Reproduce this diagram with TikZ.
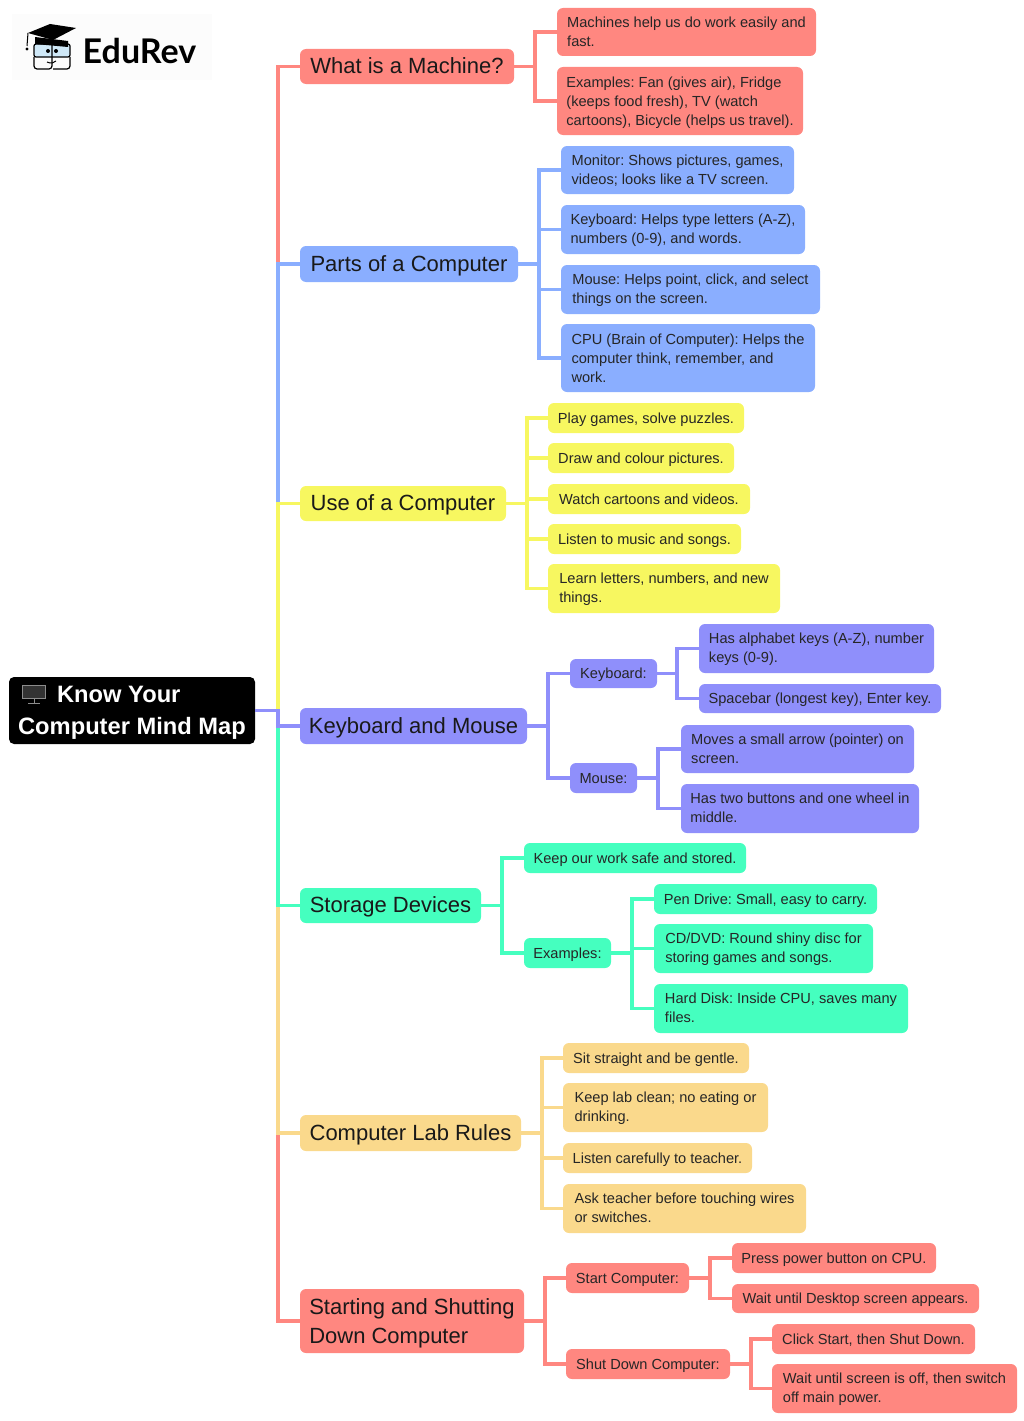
\documentclass[tikz,border=0pt]{standalone}
\usepackage{fontspec}
\setmainfont{Liberation Sans}
\newfontfamily\logofont{Lato}
\definecolor{mapred}{HTML}{FF8780}
\definecolor{mapblue}{HTML}{8AAEFF}
\definecolor{mapyellow}{HTML}{F7F760}
\definecolor{mapviolet}{HTML}{8F8FFB}
\definecolor{mapteal}{HTML}{45FFBF}
\definecolor{maptan}{HTML}{FAD98C}
\definecolor{logoblue}{HTML}{CFE8F7}
\tikzset{
  rootbox/.style={fill=black,text=white,rounded corners=5pt,inner sep=0pt,align=left,
    font=\fontsize{23.7}{32}\selectfont\bfseries\frenchspacing,
    execute at begin node={\rule{0pt}{53pt}},execute at end node={\rule[-2.5pt]{0pt}{2.5pt}}},
  branch/.style={fill=#1,text=black!90,rounded corners=6pt,inner sep=0pt,align=left,
    font=\fontsize{22}{29}\selectfont\frenchspacing,
    execute at begin node={\rule{0pt}{20.5pt}},execute at end node={\rule[-6pt]{0pt}{6pt}}},
  leaf/.style={fill=#1,text=black!85,rounded corners=6pt,inner sep=0pt,align=left,
    font=\fontsize{14.6}{19}\selectfont\frenchspacing,
    execute at begin node={\rule{0pt}{14pt}},execute at end node={\rule[-3.2pt]{0pt}{3.2pt}}},
  multi/.style={execute at begin node={\rule{0pt}{#1pt}}},
  multi/.default=31.8,
  conn/.style={line width=3.5pt,color=#1}
}
\begin{document}
\begin{tikzpicture}[x=1pt,y=-1pt]
   \useasboundingbox (0,0) rectangle (1024,1421);

   % logo
   \fill[black!1] (12,14) rectangle (212,80);
   \draw[fill=logoblue,line width=1.2pt,rounded corners=2pt] (34,44) rectangle (70,57);
   \draw[line width=1.2pt,rounded corners=3pt] (34,57) -- (34,69) -- (52,69) -- (52,44);
   \draw[line width=1.2pt,rounded corners=3pt] (53,69) -- (70,69) -- (70,57);
   \fill (35,37) -- (68,41) -- (68,47) -- (35,44) -- cycle;
   \fill (28,33) -- (50,24) -- (76,28) -- (53,40) -- cycle;
   \draw[line width=1pt] (28,33) -- (27,46);
   \fill (27,49) circle (1.6);
   \fill (48,51) circle (2) (56,51) circle (2);
   \draw[line width=1pt] (47,62) .. controls (51,64) and (54,63) .. (56,61);
   \node[font=\logofont\fontsize{34}{34}\selectfont\bfseries,inner sep=0pt] (logo) at (139.5,51) {EduRev};

   % root
   \node[rootbox,minimum width=246,minimum height=67] (root) at (132,710.5) {\hspace*{39pt}Know Your\\Computer Mind Map};
   \draw[fill=black!80,draw=black!45,line width=1pt] (22.5,685.5) rectangle (45.5,698.5);
   \draw[black!45,line width=1pt] (34,699) -- (34,703) (28,703.5) -- (40,703.5);

   % main branches
   \node[branch=mapred,minimum width=214,minimum height=35] (machine) at (407,66.5) {What is a Machine?};
   \node[branch=mapblue,minimum width=218,minimum height=36] (parts) at (409,264) {Parts of a Computer};
   \node[branch=mapyellow,minimum width=206,minimum height=35] (use) at (403,503.5) {Use of a Computer};
   \node[branch=mapviolet,minimum width=227,minimum height=36] (keys) at (413.5,726) {Keyboard and Mouse};
   \node[branch=mapteal,minimum width=181,minimum height=35] (storage) at (390.5,905.5) {Storage Devices};
   \node[branch=maptan,minimum width=221,minimum height=36] (lab) at (410.5,1133) {Computer Lab Rules};
   \node[branch=mapred,multi=51,minimum width=224,minimum height=64] (power) at (412,1321) {Starting and Shutting\\Down Computer};

   % what is a machine
   \node[leaf=mapred,multi,minimum width=259,minimum height=48] (m1) at (686.5,32) {Machines help us do work easily and\\fast.};
   \node[leaf=mapred,multi=52.4,minimum width=246,minimum height=68] (m2) at (680,101) {Examples: Fan (gives air), Fridge\\(keeps food fresh), TV (watch\\cartoons), Bicycle (helps us travel).};

   % parts
   \node[leaf=mapblue,multi,minimum width=233,minimum height=48] (p1) at (677.5,170) {Monitor: Shows pictures, games,\\videos; looks like a TV screen.};
   \node[leaf=mapblue,multi,minimum width=244,minimum height=49] (p2) at (683,229.5) {Keyboard: Helps type letters (A-Z),\\numbers (0-9), and words.};
   \node[leaf=mapblue,multi,minimum width=259,minimum height=49] (p3) at (690.5,289.5) {Mouse: Helps point, click, and select\\things on the screen.};
   \node[leaf=mapblue,multi=52.4,minimum width=254,minimum height=68] (p4) at (688,358) {CPU (Brain of Computer): Helps the\\computer think, remember, and\\work.};

   % use
   \node[leaf=mapyellow,minimum width=196,minimum height=30] (u1) at (646,418) {Play games, solve puzzles.};
   \node[leaf=mapyellow,minimum width=186,minimum height=30] (u2) at (641,458) {Draw and colour pictures.};
   \node[leaf=mapyellow,minimum width=202,minimum height=30] (u3) at (649,499) {Watch cartoons and videos.};
   \node[leaf=mapyellow,minimum width=193,minimum height=30] (u4) at (644.5,539) {Listen to music and songs.};
   \node[leaf=mapyellow,multi,minimum width=232,minimum height=49] (u5) at (664,588.5) {Learn letters, numbers, and new\\things.};

   % keyboard and mouse
   \node[leaf=mapviolet,minimum width=87,minimum height=29] (k1) at (613.5,673.5) {Keyboard:};
   \node[leaf=mapviolet,minimum width=67,minimum height=30] (k2) at (603.5,778) {Mouse:};
   \node[leaf=mapviolet,multi,minimum width=235,minimum height=49] (k1a) at (816.5,648.5) {Has alphabet keys (A-Z), number\\keys (0-9).};
   \node[leaf=mapviolet,minimum width=242,minimum height=29] (k1b) at (820,698.5) {Spacebar (longest key), Enter key.};
   \node[leaf=mapviolet,multi,minimum width=233,minimum height=48] (k2a) at (797.5,749) {Moves a small arrow (pointer) on\\screen.};
   \node[leaf=mapviolet,multi,minimum width=238,minimum height=49] (k2b) at (800,808.5) {Has two buttons and one wheel in\\middle.};

   % storage
   \node[leaf=mapteal,minimum width=222,minimum height=30] (s1) at (635,858) {Keep our work safe and stored.};
   \node[leaf=mapteal,minimum width=87,minimum height=30] (s2) at (567.5,953) {Examples:};
   \node[leaf=mapteal,minimum width=223,minimum height=30] (s2a) at (765.5,899) {Pen Drive: Small, easy to carry.};
   \node[leaf=mapteal,multi,minimum width=219,minimum height=49] (s2b) at (763.5,948.5) {CD/DVD: Round shiny disc for\\storing games and songs.};
   \node[leaf=mapteal,multi,minimum width=254,minimum height=49] (s2c) at (781,1008.5) {Hard Disk: Inside CPU, saves many\\files.};

   % lab rules
   \node[leaf=maptan,minimum width=186,minimum height=30] (l1) at (656,1058) {Sit straight and be gentle.};
   \node[leaf=maptan,multi,minimum width=205,minimum height=49] (l2) at (665.5,1107.5) {Keep lab clean; no eating or\\drinking.};
   \node[leaf=maptan,minimum width=189,minimum height=30] (l3) at (657.5,1158) {Listen carefully to teacher.};
   \node[leaf=maptan,multi,minimum width=243,minimum height=49] (l4) at (684.5,1208.5) {Ask teacher before touching wires\\or switches.};

   % start and shut down
   \node[leaf=mapred,minimum width=123,minimum height=30] (d1) at (627.5,1278) {Start Computer:};
   \node[leaf=mapred,minimum width=164,minimum height=30] (d2) at (648,1364) {Shut Down Computer:};
   \node[leaf=mapred,minimum width=204,minimum height=30] (d1a) at (834,1258) {Press power button on CPU.};
   \node[leaf=mapred,minimum width=247,minimum height=29] (d1b) at (855.5,1298.5) {Wait until Desktop screen appears.};
   \node[leaf=mapred,minimum width=203,minimum height=30] (d2a) at (873.5,1339) {Click Start, then Shut Down.};
   \node[leaf=mapred,multi,minimum width=245,minimum height=49] (d2b) at (894.5,1388.5) {Wait until screen is off, then switch\\off main power.};

   % connectors from the root, outermost first
   \foreach \b/\col in {machine/mapred,parts/mapblue,use/mapyellow,power/mapred,lab/maptan,storage/mapteal,keys/mapviolet}
     \draw[conn=\col] (root.east) -- ++(23,0) |- (\b.west);

   \foreach \c in {m1,m2}
     \draw[conn=mapred] (machine.east) -- ++(21,0) |- (\c.west);
   \foreach \c in {p1,p2,p3,p4}
     \draw[conn=mapblue] (parts.east) -- ++(21,0) |- (\c.west);
   \foreach \c in {u1,u2,u3,u4,u5}
     \draw[conn=mapyellow] (use.east) -- ++(21,0) |- (\c.west);

   \foreach \c in {k1,k2}
     \draw[conn=mapviolet] (keys.east) -- ++(21,0) |- (\c.west);
   \foreach \c in {k1a,k1b}
     \draw[conn=mapviolet] (k1.east) -- ++(20,0) |- (\c.west);
   \foreach \c in {k2a,k2b}
     \draw[conn=mapviolet] (k2.east) -- ++(21,0) |- (\c.west);

   \foreach \c in {s1,s2}
     \draw[conn=mapteal] (storage.east) -- ++(21,0) |- (\c.west);
   \foreach \c in {s2a,s2b,s2c}
     \draw[conn=mapteal] (s2.east) -- ++(21,0) |- (\c.west);

   \foreach \c in {l1,l2,l3,l4}
     \draw[conn=maptan] (lab.east) -- ++(21,0) |- (\c.west);

   \foreach \c in {d1,d2}
     \draw[conn=mapred] (power.east) -- ++(21,0) |- (\c.west);
   \foreach \c in {d1a,d1b}
     \draw[conn=mapred] (d1.east) -- ++(21,0) |- (\c.west);
   \foreach \c in {d2a,d2b}
     \draw[conn=mapred] (d2.east) -- ++(21,0) |- (\c.west);
\end{tikzpicture}
\end{document}
